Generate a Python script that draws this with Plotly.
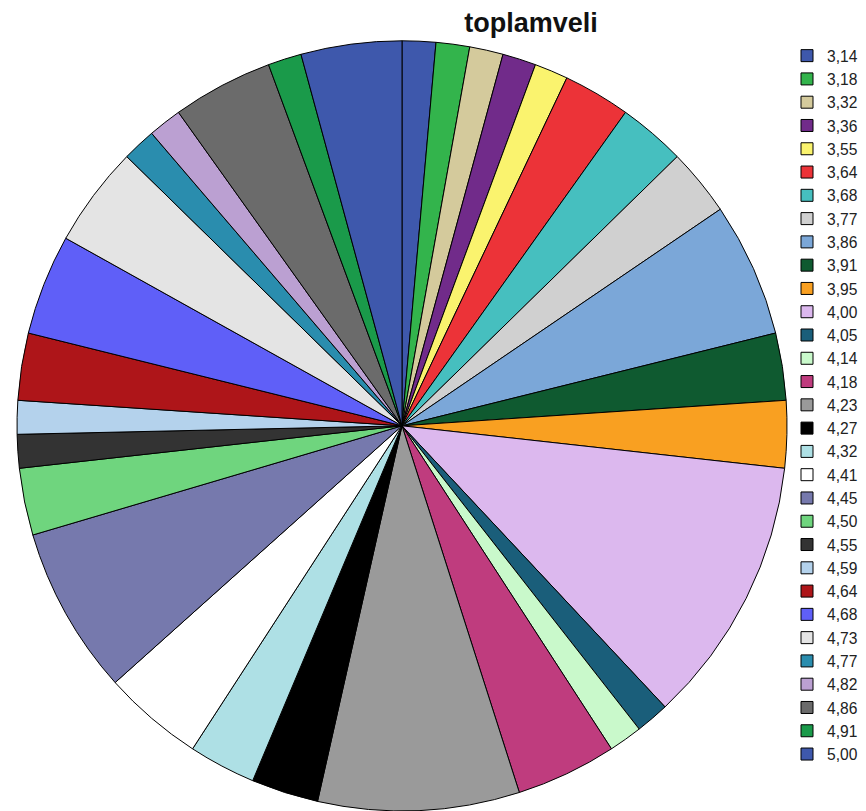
import plotly.graph_objects as go

labels = ["3,14", "3,18", "3,32", "3,36", "3,55", "3,64", "3,68", "3,77", "3,86", "3,91",
          "3,95", "4,00", "4,05", "4,14", "4,18", "4,23", "4,27", "4,32", "4,41", "4,45",
          "4,50", "4,55", "4,59", "4,64", "4,68", "4,73", "4,77", "4,82", "4,86", "4,91",
          "5,00"]
counts = [1, 1, 1, 1, 1, 2, 2, 2, 4, 2,
          2, 8, 1, 1, 3, 6, 2, 2, 3, 5,
          2, 1, 1, 2, 3, 3, 1, 1, 3, 1,
          3]
colors = ["#3E58AC", "#33B44C", "#D4CA9C", "#712B8A", "#FAF36E", "#EC3338", "#46BFBF",
          "#D0D0D0", "#7BA7D8", "#0F5A30", "#F9A021", "#DCB8EE", "#1A5E7A", "#C9F9CB",
          "#BF3C7E", "#9A9A9A", "#000000", "#AEE0E5", "#FFFFFF", "#7679AD", "#6FD57E",
          "#333333", "#B4D2EC", "#AE1519", "#5F5FF8", "#E4E4E4", "#2A8DAE", "#BBA0D2",
          "#6B6B6B", "#1A9A4A", "#3E58AC"]

W, H = 858, 803  # page has an 8px body margin

fig = go.Figure(go.Pie(
    labels=labels,
    values=counts,
    sort=False,
    direction="clockwise",
    rotation=0,
    textinfo="none",
    hoverinfo="label+value",
    marker=dict(colors=colors, line=dict(color="#000000", width=1)),
    domain=dict(x=[9 / W, 779 / W], y=[0.0, 770.4 / H]),
))

fig.update_layout(
    width=W,
    height=H,
    margin=dict(l=0, r=0, t=0, b=0, autoexpand=False),
    paper_bgcolor="white",
    plot_bgcolor="white",
    title=dict(
        text="<b>toplamveli</b>",
        x=523 / W,
        xanchor="center",
        y=1 - 15 / H,
        yanchor="middle",
        font=dict(family="Liberation Sans, Arial, sans-serif", size=27, color="#111111"),
    ),
    legend=dict(
        x=779 / W,
        xanchor="left",
        y=1 - 31 / H,
        yanchor="top",
        font=dict(family="Liberation Sans, Arial, sans-serif", size=15.6, color="#222222"),
        bgcolor="rgba(0,0,0,0)",
        borderwidth=0,
        traceorder="normal",
    ),
    showlegend=True,
)

fig.write_html("out.html")
